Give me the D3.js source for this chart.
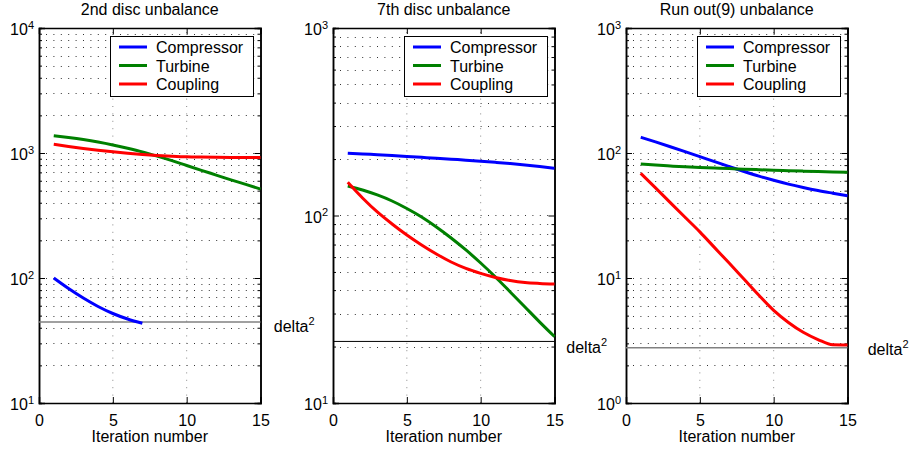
<!DOCTYPE html>
<html>
<head>
<meta charset="utf-8">
<script src="https://cdn.jsdelivr.net/npm/d3@7"></script>
<style>
  html, body { margin: 0; padding: 0; background: #fff; }
  svg { display: block; font-family: "Liberation Sans", Arial, Helvetica, sans-serif; }
</style>
</head>
<body>
<svg id="chart" width="911" height="450"></svg>
<script>
// Convergence of the balancing residual over the iterations, three cases.
const iterations = d3.range(1, 16);
const seriesNames = ["Compressor", "Turbine", "Coupling"];
const seriesColors = ["#0000ff", "#008000", "#ff0000"];
const titles = ["2nd disc unbalance", "7th disc unbalance", "Run out(9) unbalance"];
const xTicks = [0, 5, 10, 15];
const xLabel = "Iteration number";

// 2nd disc unbalance
const disc2Compressor = [100, 82.4, 69.2, 59.2, 52.0, 47.0, 43.4];
const disc2Turbine = [1375, 1330, 1280, 1223, 1159, 1090, 1019, 943, 868, 794, 727, 666, 610, 561, 515];
const disc2Coupling = [1174, 1129, 1088, 1053, 1022, 996, 974, 957, 943, 932, 927, 924, 922, 922, 922];

// 7th disc unbalance
const disc7Compressor = [215, 213, 211, 208.8, 206.5, 204.2, 202, 199.7, 197.3, 194.8, 192.1, 189.2, 186, 182.4, 178.6];
const disc7Turbine = [143.6, 136.8, 128.7, 119.5, 109.0, 98.2, 86.9, 75.9, 65.5, 55.8, 47.0, 39.1, 32.5, 27.0, 22.6];
const disc7Coupling = [150.3, 124.0, 104.4, 90.1, 78.7, 69.6, 62.3, 56.5, 52.2, 49.1, 46.7, 45.0, 43.9, 43.4, 43.1];

// Run out(9) unbalance
const runoutCompressor = [133.6, 122.7, 112.3, 102.6, 93.6, 85.3, 77.8, 71.1, 65.3, 60.5, 56.4, 53.0, 50.1, 47.7, 45.5];
const runoutTurbine = [81.7, 80, 78.7, 77.5, 76.5, 75.7, 75, 74.2, 73.5, 72.8, 72.2, 71.6, 71, 70.5, 70.1];
const runoutCoupling = [68.8, 52.6, 40.1, 30.6, 23.4, 17.5, 13.1, 9.76, 7.27, 5.51, 4.41, 3.68, 3.22, 2.92, 2.91];

// threshold (delta^2) for each case
const delta2 = [44.5, 21.3, 2.77];
const yDomains = [[10, 1e4], [10, 1e3], [1, 1e3]];

const panels = [
  { title: titles[0], series: [disc2Compressor, disc2Turbine, disc2Coupling], yDomain: yDomains[0], delta: delta2[0] },
  { title: titles[1], series: [disc7Compressor, disc7Turbine, disc7Coupling], yDomain: yDomains[1], delta: delta2[1] },
  { title: titles[2], series: [runoutCompressor, runoutTurbine, runoutCoupling], yDomain: yDomains[2], delta: delta2[2] }
];

// layout
const panelLeft = [39, 333, 626];
const panelWidth = 221.5;
const panelTop = 28, panelHeight = 375;
const deltaStroke = [{ c: "#808080", w: 1.5 }, { c: "#000", w: 1 }, { c: "#808080", w: 1.5 }];
// label anchors in data units (iteration, value) for the delta^2 text
const deltaLabelAt = [[15.9, 36.8], [15.8, 18.4], [16.37, 2.42]];

const svg = d3.select("#chart");
svg.append("rect").attr("width", 911).attr("height", 450).attr("fill", "#fff");

panels.forEach((p, i) => {
  const g = svg.append("g").attr("transform", `translate(${panelLeft[i]},${panelTop})`);
  const w = panelWidth, h = panelHeight;
  const x = d3.scaleLinear().domain([0, 15]).range([0, w]);
  const y = d3.scaleLog().domain(p.yDomain).range([h, 0]);

  const lo = Math.round(Math.log10(p.yDomain[0])), hi = Math.round(Math.log10(p.yDomain[1]));
  const majors = d3.range(lo, hi + 1).map(e => Math.pow(10, e));
  const minors = [];
  for (let e = lo; e < hi; e++) for (let m = 2; m <= 9; m++) minors.push(m * Math.pow(10, e));

  // dotted grid
  const grid = g.append("g").attr("fill", "none");
  grid.selectAll("line.hg").data(majors.concat(minors)).join("line")
    .attr("x1", 0).attr("x2", w)
    .attr("y1", d => Math.round(y(d)) + 0.5).attr("y2", d => Math.round(y(d)) + 0.5)
    .attr("stroke", "#333").attr("stroke-width", 1).attr("stroke-dasharray", "1,6.4")
    .attr("stroke-dashoffset", -7);
  grid.selectAll("line.vg").data(xTicks.slice(1, -1)).join("line")
    .attr("x1", d => x(d)).attr("x2", d => x(d))
    .attr("y1", 0).attr("y2", h)
    .attr("stroke", "#888").attr("stroke-width", 1).attr("stroke-dasharray", "1,6.4")
    .attr("stroke-dashoffset", -4);

  // axes: major/minor ticks on all four sides, pointing inward
  const fmtNone = () => "";
  g.append("g").attr("transform", `translate(0,${h})`)
    .call(d3.axisBottom(x).tickValues(xTicks).tickSize(-6).tickFormat(d3.format("d")).tickPadding(12));
  g.append("g").call(d3.axisTop(x).tickValues(xTicks).tickSize(-6).tickFormat(fmtNone));
  const yl = g.append("g").call(d3.axisLeft(y).tickValues(majors).tickSize(-6).tickPadding(0).tickFormat(fmtNone));
  g.append("g").call(d3.axisLeft(y).tickValues(minors).tickSize(-3).tickFormat(fmtNone));
  g.append("g").attr("transform", `translate(${w},0)`)
    .call(d3.axisRight(y).tickValues(majors).tickSize(-6).tickFormat(fmtNone));
  g.append("g").attr("transform", `translate(${w},0)`)
    .call(d3.axisRight(y).tickValues(minors).tickSize(-3).tickFormat(fmtNone));

  g.selectAll(".domain").attr("stroke", "#000").attr("stroke-width", 1.5);
  g.selectAll(".tick line").attr("stroke", "#000").attr("stroke-width", 1);
  g.selectAll(".tick text").attr("font-size", 16).attr("fill", "#000")
    .attr("font-family", '"Liberation Sans", Arial, sans-serif');

  // y labels as 10 with a superscript exponent
  yl.selectAll(".tick").each(function(d) {
    const t = d3.select(this).select("text");
    t.text(null).attr("x", -5).attr("dy", null).attr("y", 6.5).attr("text-anchor", "end");
    t.append("tspan").text("10");
    t.append("tspan").attr("font-size", 11).attr("dy", -6.5).text(Math.round(Math.log10(d)));
  });

  // delta^2 threshold
  g.append("line")
    .attr("x1", x(0)).attr("x2", x(15))
    .attr("y1", y(p.delta)).attr("y2", y(p.delta))
    .attr("stroke", deltaStroke[i].c).attr("stroke-width", deltaStroke[i].w);
  const dl = g.append("text")
    .attr("x", x(deltaLabelAt[i][0])).attr("y", y(deltaLabelAt[i][1]))
    .attr("font-size", 16).attr("fill", "#000");
  dl.append("tspan").text("delta");
  dl.append("tspan").attr("font-size", 11).attr("dy", -7).text("2");

  // series lines
  const line = d3.line().x((d, k) => x(iterations[k])).y(d => y(d)).curve(d3.curveMonotoneX);
  p.series.forEach((vals, s) => {
    g.append("path").datum(vals)
      .attr("d", line)
      .attr("fill", "none")
      .attr("stroke", seriesColors[s])
      .attr("stroke-width", 3)
      .attr("stroke-linejoin", "round");
  });

  // title and x label
  g.append("text").attr("x", w / 2).attr("y", -13).attr("text-anchor", "middle")
    .attr("font-size", 16).attr("fill", "#000").text(p.title);
  g.append("text").attr("x", w / 2).attr("y", h + 39).attr("text-anchor", "middle")
    .attr("font-size", 16).attr("fill", "#000").text(xLabel);

  // legend
  const lw = 143, lh = 60;
  const lg = g.append("g").attr("transform", `translate(${w - 7.5 - lw},8)`);
  lg.append("rect").attr("x", 0.5).attr("y", 0.5).attr("width", lw).attr("height", lh)
    .attr("fill", "#fff").attr("stroke", "#000").attr("stroke-width", 1);
  seriesNames.forEach((name, s) => {
    const ry = 11 + s * 18.5;
    lg.append("line").attr("x1", 9).attr("x2", 37).attr("y1", ry).attr("y2", ry)
      .attr("stroke", seriesColors[s]).attr("stroke-width", 3);
    lg.append("text").attr("x", 46).attr("y", ry + 6).attr("font-size", 16)
      .attr("fill", "#000").text(name);
  });
});
</script>
</body>
</html>
